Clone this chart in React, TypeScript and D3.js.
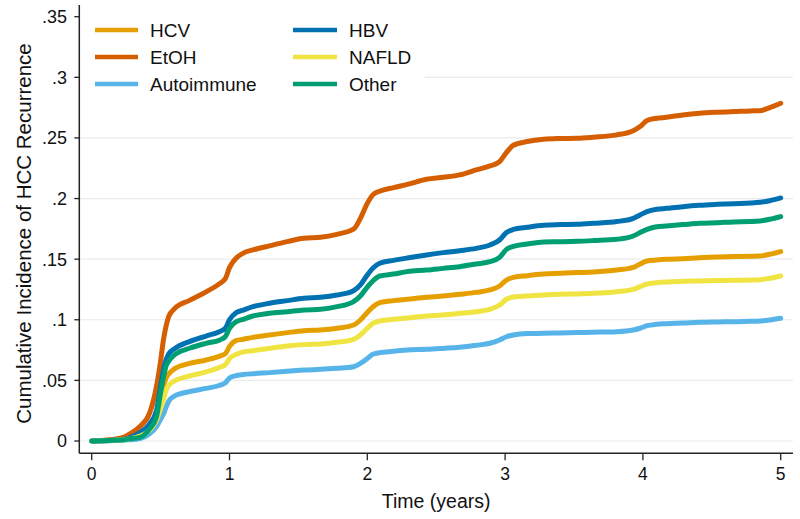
import React from "react";
import * as d3 from "d3";

const times = [0, 0.13, 0.23, 0.28, 0.35, 0.42, 0.47, 0.5, 0.52, 0.54, 0.56, 0.6, 0.71, 0.83, 0.93, 0.97, 1.0, 1.05, 1.1, 1.17, 1.29, 1.42, 1.54, 1.66, 1.78, 1.9, 1.95, 2.0, 2.04, 2.09, 2.19, 2.29, 2.43, 2.55, 2.67, 2.79, 2.89, 2.96, 3.01, 3.06, 3.16, 3.28, 3.4, 3.52, 3.64, 3.81, 3.93, 3.98, 4.03, 4.1, 4.17, 4.29, 4.41, 4.54, 4.66, 4.78, 4.85, 4.92, 5.0];

const hcv = [0, 0.0005, 0.001, 0.002, 0.005, 0.011, 0.022, 0.035, 0.045, 0.052, 0.0555, 0.0595, 0.064, 0.0668, 0.07, 0.072, 0.078, 0.083, 0.0839, 0.0855, 0.0874, 0.0894, 0.091, 0.0916, 0.093, 0.0957, 0.0998, 0.106, 0.1105, 0.1141, 0.1158, 0.1169, 0.1185, 0.1196, 0.121, 0.1226, 0.1246, 0.1279, 0.1328, 0.135, 0.1364, 0.1377, 0.1383, 0.1389, 0.1394, 0.141, 0.1432, 0.146, 0.1485, 0.1493, 0.1499, 0.1504, 0.1512, 0.1518, 0.1521, 0.1524, 0.1526, 0.154, 0.1562];

const etoh = [0, 0.001, 0.003, 0.006, 0.012, 0.023, 0.045, 0.066, 0.083, 0.095, 0.103, 0.109, 0.116, 0.123, 0.13, 0.134, 0.143, 0.151, 0.155, 0.1576, 0.161, 0.1645, 0.1672, 0.168, 0.1705, 0.1747, 0.1837, 0.196, 0.203, 0.206, 0.209, 0.2117, 0.2159, 0.2175, 0.2195, 0.2236, 0.2269, 0.2305, 0.238, 0.244, 0.247, 0.2489, 0.2495, 0.2497, 0.2506, 0.2525, 0.256, 0.2594, 0.2643, 0.2662, 0.267, 0.269, 0.2704, 0.2712, 0.2717, 0.2723, 0.2725, 0.275, 0.2786];

const autoimmune = [0, 0.0003, 0.0008, 0.001, 0.002, 0.006, 0.0118, 0.018, 0.022, 0.028, 0.033, 0.037, 0.0407, 0.0434, 0.046, 0.048, 0.052, 0.054, 0.0548, 0.0555, 0.0564, 0.0575, 0.0586, 0.0591, 0.06, 0.0613, 0.064, 0.068, 0.0715, 0.0729, 0.074, 0.0751, 0.0756, 0.0764, 0.0773, 0.0789, 0.0806, 0.0833, 0.086, 0.0875, 0.0886, 0.0888, 0.0891, 0.0894, 0.0897, 0.0902, 0.0916, 0.093, 0.0951, 0.0963, 0.0968, 0.0973, 0.0979, 0.0982, 0.0984, 0.0987, 0.099, 0.0998, 0.1012];

const hbv = [0, 0.0005, 0.001, 0.003, 0.007, 0.014, 0.025, 0.045, 0.058, 0.067, 0.072, 0.076, 0.082, 0.0866, 0.0904, 0.093, 0.1, 0.106, 0.108, 0.1108, 0.1136, 0.1158, 0.1177, 0.1185, 0.1204, 0.124, 0.1287, 0.137, 0.1425, 0.1466, 0.149, 0.151, 0.1535, 0.1554, 0.157, 0.1589, 0.1617, 0.1658, 0.1719, 0.1745, 0.1763, 0.178, 0.1785, 0.1788, 0.1796, 0.181, 0.1837, 0.1865, 0.1892, 0.1911, 0.1919, 0.1933, 0.1944, 0.1952, 0.1958, 0.1963, 0.1969, 0.1982, 0.2005];

const nafld = [0, 0.0005, 0.001, 0.002, 0.004, 0.009, 0.017, 0.027, 0.034, 0.042, 0.046, 0.0495, 0.0536, 0.057, 0.0608, 0.063, 0.068, 0.0715, 0.0735, 0.0745, 0.0764, 0.0784, 0.0795, 0.08, 0.0814, 0.0839, 0.0875, 0.093, 0.097, 0.099, 0.1004, 0.1015, 0.1031, 0.104, 0.1053, 0.1067, 0.1086, 0.1122, 0.1169, 0.1188, 0.1196, 0.1204, 0.121, 0.1213, 0.1218, 0.1232, 0.1251, 0.1273, 0.1295, 0.1306, 0.1312, 0.1317, 0.132, 0.1323, 0.1325, 0.1328, 0.1331, 0.1342, 0.1361];

const other = [0, 0.0005, 0.001, 0.002, 0.003, 0.01, 0.02, 0.04, 0.052, 0.062, 0.066, 0.071, 0.0765, 0.0806, 0.0834, 0.0861, 0.093, 0.0985, 0.1004, 0.1031, 0.1053, 0.1067, 0.1081, 0.1086, 0.1108, 0.115, 0.1196, 0.127, 0.132, 0.1361, 0.1377, 0.1397, 0.141, 0.1424, 0.1438, 0.146, 0.1479, 0.1515, 0.1581, 0.1605, 0.1625, 0.1642, 0.1644, 0.1647, 0.1653, 0.1664, 0.1691, 0.1719, 0.1746, 0.1768, 0.1774, 0.1785, 0.1796, 0.1801, 0.1807, 0.181, 0.1815, 0.1829, 0.1851];

const seriesNames = ["HCV", "EtOH", "Autoimmune", "HBV", "NAFLD", "Other"];
const seriesValues = [hcv, etoh, autoimmune, hbv, nafld, other];
const seriesColors = ["#E69F00", "#D55E00", "#56B4E9", "#0072B2", "#F0E442", "#009E73"];

const xTicks = [0, 1, 2, 3, 4, 5];
const xTickLabels = ["0", "1", "2", "3", "4", "5"];
const yTicks = [0, 0.05, 0.1, 0.15, 0.2, 0.25, 0.3, 0.35];
const yTickLabels = ["0", ".05", ".1", ".15", ".2", ".25", ".3", ".35"];

const FONT = "'Liberation Sans', Arial, Helvetica, sans-serif";

export default function App() {
  const W = 800;
  const H = 519;
  const axisX = 79.3;
  const axisY = 453.3;
  const right = 793;
  const x = d3.scaleLinear().domain([0, 5]).range([91.7, 780.7]);
  const y = d3.scaleLinear().domain([0, 0.35]).range([441, 16.7]);

  const line = d3
    .line<[number, number]>()
    .x((d) => x(d[0]))
    .y((d) => y(d[1]))
    .curve(d3.curveMonotoneX);

  const legendCols = [
    { lineX: 95, lineX2: 138, textX: 150 },
    { lineX: 293, lineX2: 337, textX: 349 },
  ];
  const legendRows = [30, 57, 84];

  return (
    <svg
      width={W}
      height={H}
      viewBox={`0 0 ${W} ${H}`}
      style={{ position: "absolute", left: 0, top: 0, display: "block", background: "#fff" }}
    >
      <rect x={0} y={0} width={W} height={H} fill="#fff" />
      {/* gridlines */}
      {yTicks
        .filter((t) => t < 0.34)
        .map((t) => (
          <line key={"g" + t} x1={axisX + 1} x2={right} y1={y(t)} y2={y(t)} stroke="#e8ecef" strokeWidth={1.2} />
        ))}
      {/* legend background */}
      <rect x={axisX + 1} y={6} width={425 - axisX - 1} height={104} fill="#fff" />
      {/* series */}
      {seriesValues.map((vals, i) => {
        const pts: [number, number][] = times.map((t, j) => [t, vals[j]]);
        return (
          <path
            key={seriesNames[i]}
            d={line(pts) || ""}
            fill="none"
            stroke={seriesColors[i]}
            strokeWidth={5}
            strokeLinejoin="round"
            strokeLinecap="round"
          />
        );
      })}
      {/* axes */}
      <line x1={axisX} x2={axisX} y1={5} y2={axisY} stroke="#222" strokeWidth={1.5} />
      <line x1={axisX} x2={right} y1={axisY} y2={axisY} stroke="#222" strokeWidth={1.5} />
      {yTicks.map((t, i) => (
        <g key={"yt" + t}>
          <line x1={axisX - 5} x2={axisX} y1={y(t)} y2={y(t)} stroke="#222" strokeWidth={1.3} />
          <text
            x={67}
            y={y(t)}
            dy="0.36em"
            textAnchor="end"
            fontFamily={FONT}
            fontSize={18}
            fill="#111"
          >
            {yTickLabels[i]}
          </text>
        </g>
      ))}
      {xTicks.map((t, i) => (
        <g key={"xt" + t}>
          <line x1={x(t)} x2={x(t)} y1={axisY} y2={axisY + 7} stroke="#222" strokeWidth={1.3} />
          <text x={x(t)} y={480} textAnchor="middle" fontFamily={FONT} fontSize={17.5} fill="#111">
            {xTickLabels[i]}
          </text>
        </g>
      ))}
      <text x={(axisX + right) / 2} y={508} textAnchor="middle" fontFamily={FONT} fontSize={19.5} fill="#111">
        Time (years)
      </text>
      <text
        transform={`translate(31, 233.5) rotate(-90)`}
        textAnchor="middle"
        fontFamily={FONT}
        fontSize={20.5}
        fill="#111"
      >
        Cumulative Incidence of HCC Recurrence
      </text>
      {/* legend */}
      {seriesNames.map((name, i) => {
        const col = legendCols[Math.floor(i / 3)];
        const ry = legendRows[i % 3];
        return (
          <g key={"lg" + name}>
            <line x1={col.lineX} x2={col.lineX2} y1={ry} y2={ry} stroke={seriesColors[i]} strokeWidth={4.5} />
            <text x={col.textX} y={ry} dy="0.36em" fontFamily={FONT} fontSize={19} fill="#111">
              {name}
            </text>
          </g>
        );
      })}
    </svg>
  );
}
